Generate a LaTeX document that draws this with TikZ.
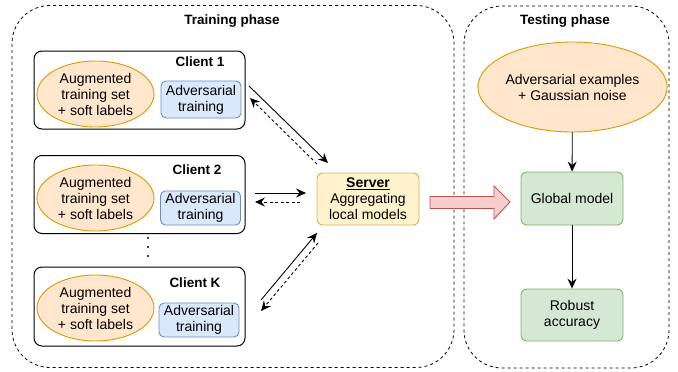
\documentclass[tikz,border=0pt]{standalone}
\usepackage{fontspec}
\setmainfont{Liberation Sans}
\usetikzlibrary{arrows.meta,shapes.geometric}
\definecolor{orF}{HTML}{FFE6CC}\definecolor{orD}{HTML}{D79B00}
\definecolor{blF}{HTML}{DAE8FC}\definecolor{blD}{HTML}{6C8EBF}
\definecolor{yeF}{HTML}{FFF2CC}\definecolor{yeD}{HTML}{D6B656}
\definecolor{grF}{HTML}{D5E8D4}\definecolor{grD}{HTML}{82B366}
\definecolor{reF}{HTML}{F8CECC}\definecolor{reD}{HTML}{B85450}
\tikzset{
  phasebox/.style={draw, dashed, dash pattern=on 3pt off 3pt, line width=0.8pt, rounded corners=38pt, inner sep=0pt},
  clientbox/.style={draw, line width=1pt, rounded corners=8pt, minimum width=211pt, minimum height=78pt, inner sep=0pt},
  dataell/.style={ellipse, draw=orD, fill=orF, line width=0.9pt, inner sep=0pt, align=center},
  advbox/.style={draw=blD, fill=blF, line width=0.9pt, rounded corners=5pt, minimum width=80pt, minimum height=37pt, inner sep=0pt, align=center},
  greenbox/.style={draw=grD, fill=grF, line width=0.9pt, rounded corners=6pt, minimum width=102pt, minimum height=53pt, inner sep=0pt, align=center},
  titletext/.style={font=\fontsize{13.5}{15}\selectfont\bfseries},
  arr/.style={line width=0.9pt, -{Stealth[length=10pt,width=9pt,inset=3.5pt]}},
  darr/.style={arr, dashed, dash pattern=on 3pt off 2.5pt}
}
\begin{document}
\begin{tikzpicture}[x=1pt,y=-1pt, font=\fontsize{14}{16}\selectfont]
\useasboundingbox (0,0) rectangle (678,372);
% phase boxes
\node[phasebox, minimum width=442pt, minimum height=362pt] (train) at (233,186.5) {};
\node[phasebox, minimum width=205pt, minimum height=362pt] (test) at (566.5,187) {};
\node[titletext] (traint) at (232,21) {Training phase};
\node[titletext] (testt) at (565,21) {Testing phase};
% client 1
\node[clientbox] (cl1) at (139.5,90) {};
\node[titletext] (cl1t) at (200,62) {Client 1};
\node[dataell, minimum width=117pt, minimum height=66pt] (d1) at (95.5,94) {Augmented\\training set\\+ soft labels};
\node[advbox] (a1) at (201,99.5) {Adversarial\\training};
% client 2
\node[clientbox] (cl2) at (139.5,194.5) {};
\node[titletext] (cl2t) at (197,170) {Client 2};
\node[dataell, minimum width=117pt, minimum height=66pt] (d2) at (95.5,198) {Augmented\\training set\\+ soft labels};
\node[advbox, minimum height=34pt] (a2) at (200.5,208) {Adversarial\\training};
% dots
\node[circle, fill, inner sep=0pt, minimum size=2.4pt] (dot1) at (148,238) {};
\node[circle, fill, inner sep=0pt, minimum size=2.4pt] (dot2) at (148,247) {};
\node[circle, fill, inner sep=0pt, minimum size=2.4pt] (dot3) at (148,256) {};
% client K
\node[clientbox, minimum height=79pt] (clk) at (139.5,306.5) {};
\node[titletext] (clkt) at (195,283) {Client K};
\node[dataell, minimum width=117pt, minimum height=66pt] (dk) at (95.5,308) {Augmented\\training set\\+ soft labels};
\node[advbox, minimum height=34pt] (ak) at (199,320) {Adversarial\\training};
% server
\node[draw=yeD, fill=yeF, line width=0.9pt, rounded corners=6pt, minimum width=102pt, minimum height=52pt, inner sep=0pt, align=center] (srv) at (368,199) {\textbf{\underline{Server}}\\Aggregating\\local models};
% arrows client <-> server
\coordinate (c1o) at (249,86); \coordinate (s1i) at (328,163);
\coordinate (s1o) at (317,164); \coordinate (c1i) at (250,98);
\draw[arr] (c1o) -- (s1i);
\draw[darr] (s1o) -- (c1i);
\coordinate (c2o) at (255,193); \coordinate (s2i) at (306,193);
\coordinate (s2o) at (300,202); \coordinate (c2i) at (255,202);
\draw[arr] (c2o) -- (s2i);
\draw[darr] (s2o) -- (c2i);
\coordinate (cko) at (261,300); \coordinate (ski) at (317,233);
\coordinate (sko) at (318,243); \coordinate (cki) at (261,311);
\draw[arr] (cko) -- (ski);
\draw[darr] (sko) -- (cki);
% big arrow
\coordinate (bigtail) at (430,202);
\coordinate (bigtip) at (510,202);
\draw[draw=reD, fill=reF, line width=0.9pt] (430,196.5) -- (494,196.5) -- (494,186) -- (bigtip) -- (494,219) -- (494,208.5) -- (430,208.5) -- cycle;
% testing phase
\node[dataell, minimum width=137pt, minimum height=90pt] (adv) at (572.5,87) {Adversarial examples\\+ Gaussian noise};
\node[greenbox] (glob) at (572,198.5) {Global model};
\node[greenbox, minimum height=52pt] (rob) at (572,315) {Robust\\accuracy};
\draw[arr] (adv) -- (glob);
\draw[arr] (glob) -- (rob);
\end{tikzpicture}
\end{document}
